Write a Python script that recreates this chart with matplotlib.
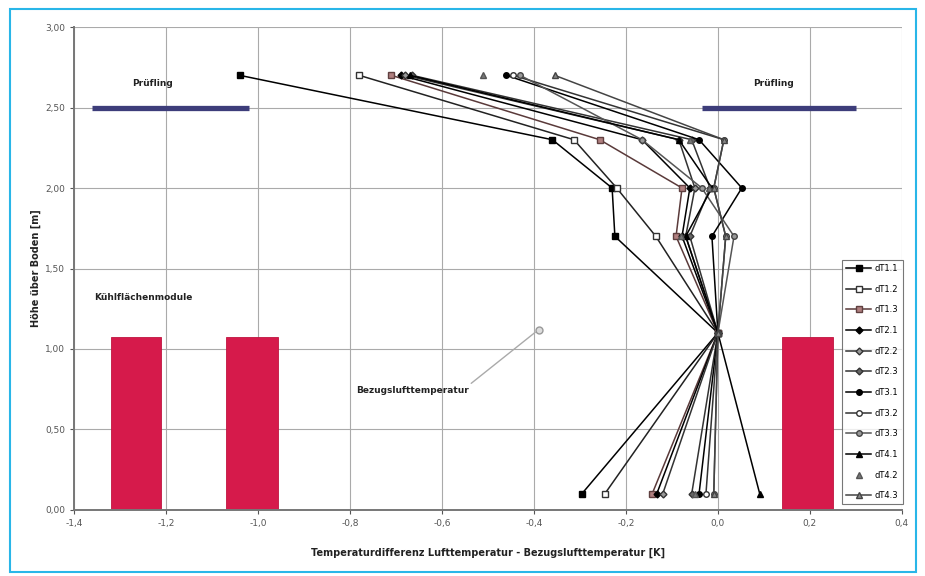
import numpy as np
import matplotlib
matplotlib.use("Agg")
import matplotlib.pyplot as plt
from matplotlib.patches import Rectangle

# measurement heights above floor [m]
heights = [2.70, 2.30, 2.00, 1.70, 1.10, 0.10]

# temperature differences per sensor column [K]
series_names = ["dT1.1", "dT1.2", "dT1.3", "dT2.1", "dT2.2", "dT2.3",
                "dT3.1", "dT3.2", "dT3.3", "dT4.1", "dT4.2", "dT4.3"]
dT11 = [-1.04, -0.36, -0.23, -0.224, 0.0, -0.296]
dT12 = [-0.78, -0.313, -0.22, -0.135, 0.0, -0.246]
dT13 = [-0.71, -0.257, -0.078, -0.091, 0.0, -0.143]
dT21 = [-0.69, -0.165, -0.061, -0.078, 0.0, -0.133]
dT22 = [-0.68, -0.085, -0.05, -0.07, 0.0, -0.12]
dT23 = [-0.665, -0.057, -0.017, -0.061, 0.0, -0.057]
dT31 = [-0.46, -0.041, 0.052, -0.013, 0.0, -0.041]
dT32 = [-0.445, 0.013, -0.009, 0.017, 0.0, -0.026]
dT33 = [-0.43, -0.165, -0.035, 0.035, 0.0, -0.009]
dT41 = [-0.67, -0.085, -0.013, -0.07, 0.0, 0.091]
dT42 = [-0.51, -0.06, -0.02, -0.08, 0.0, -0.05]
dT43 = [-0.355, 0.013, -0.009, 0.017, 0.0, -0.009]
series_values = [dT11, dT12, dT13, dT21, dT22, dT23,
                 dT31, dT32, dT33, dT41, dT42, dT43]

# test object (Prüfling) extents at 2.5 m
pruefling_height = 2.5
pruefling_left = [-1.36, -1.02]
pruefling_right = [-0.035, 0.30]

# cooling panels
panel_left = [-1.32, -1.07, 0.139]
panel_width = [0.11, 0.114, 0.111]
panel_height = [1.075, 1.075, 1.075]

x_ticks = [-1.4, -1.2, -1.0, -0.8, -0.6, -0.4, -0.2, 0.0, 0.2, 0.4]
y_ticks = [0.0, 0.5, 1.0, 1.5, 2.0, 2.5, 3.0]

styles = [
    dict(marker="s", mfc="black", mec="black", color="black"),
    dict(marker="s", mfc="white", mec="#333333", color="#222222"),
    dict(marker="s", mfc="#b08080", mec="#604040", color="#5a3a3a"),
    dict(marker="D", mfc="black", mec="black", color="black", ms=3.5),
    dict(marker="D", mfc="#999999", mec="#333333", color="#333333", ms=3.5),
    dict(marker="D", mfc="#666666", mec="#333333", color="#333333", ms=3.5),
    dict(marker="o", mfc="black", mec="black", color="black"),
    dict(marker="o", mfc="white", mec="#333333", color="#333333"),
    dict(marker="o", mfc="#999999", mec="#444444", color="#555555"),
    dict(marker="^", mfc="black", mec="black", color="black"),
    dict(marker="^", mfc="#777777", mec="#555555", color="none"),
    dict(marker="^", mfc="#888888", mec="#444444", color="#444444"),
]

fig = plt.figure(figsize=(9.25, 5.76), dpi=100)
ax = fig.add_axes([0.080, 0.1146, 0.895, 0.8385])

# cooling panels
ax.bar(panel_left, panel_height, width=panel_width, align="edge",
       color="#d61a4b", edgecolor="#c0143f", linewidth=0.6, zorder=1)

# test object bars
ax.plot(pruefling_left, [pruefling_height] * 2, color="#3d3d7a", lw=3.8,
        solid_capstyle="butt", zorder=2)
ax.plot(pruefling_right, [pruefling_height] * 2, color="#3d3d7a", lw=3.8,
        solid_capstyle="butt", zorder=2)

for name, vals, st in zip(series_names, series_values, styles):
    st = dict(st)
    ms = st.pop("ms", 4)
    col = st.pop("color")
    ls = "none" if col == "none" else "-"
    ax.plot(vals, heights, linestyle=ls, color=(col if col != "none" else "black"),
            lw=1.1, markersize=ms, label=name, zorder=3, **st)

ax.set_xlim(-1.4, 0.4)
ax.set_ylim(0.0, 3.0)
ax.set_xticks(x_ticks)
ax.set_yticks(y_ticks)
ax.set_xticklabels([f"{v:.1f}".replace(".", ",").replace("-0,0", "0,0") for v in x_ticks])
ax.set_yticklabels([f"{v:.2f}".replace(".", ",") for v in y_ticks])
ax.tick_params(labelsize=6.5, colors="#555555", length=3)
ax.grid(True, color="#aaaaaa", lw=0.8, zorder=0)
ax.set_axisbelow(True)
for side in ["top", "right"]:
    ax.spines[side].set_visible(False)
for side in ["left", "bottom"]:
    ax.spines[side].set_color("#777777")
    ax.spines[side].set_linewidth(1.4)

ax.set_xlabel("Temperaturdifferenz Lufttemperatur - Bezugslufttemperatur [K]",
              fontsize=7, fontweight="bold", color="#222222", labelpad=14)
ax.set_ylabel("Höhe über Boden [m]", fontsize=7, fontweight="bold",
              color="#222222", labelpad=3)

# annotations
ax.text(-1.23, 2.65, "Prüfling", fontsize=6.5, fontweight="bold", ha="center",
        va="center", color="#222222")
ax.text(0.12, 2.65, "Prüfling", fontsize=6.5, fontweight="bold", ha="center",
        va="center", color="#222222")
ax.text(-1.25, 1.32, "Kühlflächenmodule", fontsize=6.5, fontweight="bold",
        ha="center", va="center", color="#222222")
ax.annotate("Bezugslufttemperatur", xy=(-0.39, 1.12), xytext=(-0.665, 0.745),
            fontsize=6.5, fontweight="bold", ha="center", va="center",
            color="#222222",
            arrowprops=dict(arrowstyle="-", color="#aaaaaa", lw=1.0,
                            shrinkA=0, shrinkB=3,
                            relpos=(1.0, 1.0)))
ax.plot([-0.39], [1.12], marker="o", ms=5, mfc="#dddddd", mec="#999999",
        ls="none", zorder=3)

leg = ax.legend(loc="lower right", bbox_to_anchor=(1.006, 0.003),
                fontsize=6, frameon=True, fancybox=False, labelspacing=1.4,
                handlelength=3.0, handletextpad=0.4, borderpad=0.5)
leg.get_frame().set_edgecolor("#555555")
leg.get_frame().set_linewidth(0.8)
leg.set_zorder(5)

# outer frame
fig.patches.append(Rectangle((10 / 925, 4 / 576), 906 / 925, 563 / 576,
                             transform=fig.transFigure, fill=False,
                             edgecolor="#29b6e8", lw=1.5))

fig.savefig("out.png", dpi=100)
